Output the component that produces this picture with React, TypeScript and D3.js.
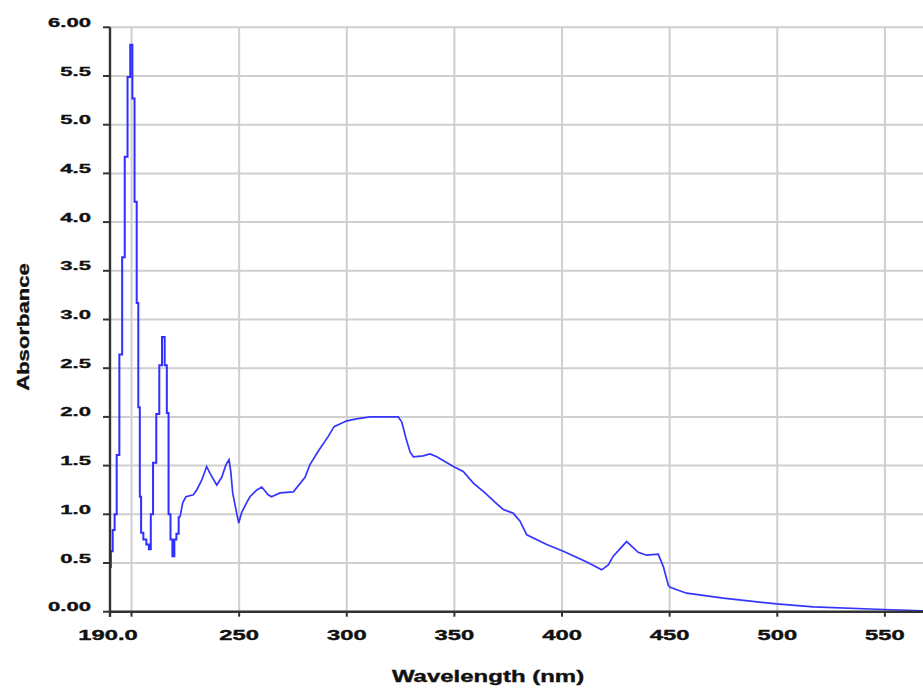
import * as d3 from 'd3';

// spectrum (nm, absorbance)
const wavelength = [
  190.0, 190.8, 191.7, 192.6, 193.6, 195.1, 196.2, 197.5, 198.8, 200.0,
  200.8, 202.0, 202.8, 203.5, 204.2, 204.7, 206.3, 207.5, 208.6, 209.3,
  210.7, 212.3, 213.5, 214.8, 216.0, 216.8, 217.6, 218.6, 219.4, 220.4,
  221.3, 222.5, 223.8, 225.3, 228.7, 230.3, 232.6, 234.9, 236.5, 239.6,
  241.9, 243.9, 245.3, 246.1, 247.0, 248.5, 249.8, 251.2, 253.5, 255.0,
  258.2, 260.5, 263.5, 265.0, 269.0, 275.2, 280.6, 282.9, 286.8, 291.4,
  294.1, 300.0, 304.6, 310.8, 323.9, 325.5, 327.5, 329.4, 330.9, 335.5,
  338.7, 341.8, 349.5, 354.1, 358.8, 364.2, 369.6, 372.7, 377.4, 380.5,
  383.6, 392.9, 400.6, 411.5, 418.4, 421.5, 423.8, 430.0, 435.4, 439.3,
  444.7, 447.1, 449.4, 450.2, 454.0, 457.9, 474.9, 499.7, 516.7, 546.2,
  567.1, 568.0,
];
const absorbance = [
  0.46, 0.62, 0.84, 1.0, 1.61, 2.64, 3.64, 4.67, 5.49, 5.82,
  5.27, 4.21, 3.17, 2.1, 1.18, 0.81, 0.74, 0.69, 0.64, 1.0,
  1.53, 2.03, 2.53, 2.82, 2.53, 2.04, 1.0, 0.74, 0.57, 0.74,
  0.8, 0.97, 1.12, 1.18, 1.2, 1.25, 1.35, 1.49, 1.42, 1.3,
  1.38, 1.51, 1.56, 1.44, 1.22, 1.05, 0.91, 1.02, 1.12, 1.18,
  1.25, 1.28, 1.2, 1.18, 1.22, 1.23, 1.38, 1.51, 1.65, 1.8,
  1.9, 1.96, 1.98, 2.0, 2.0, 1.95, 1.78, 1.64, 1.59, 1.6,
  1.62, 1.59, 1.49, 1.44, 1.32, 1.22, 1.11, 1.05, 1.01, 0.93,
  0.79, 0.69, 0.62, 0.51, 0.43, 0.48, 0.57, 0.72, 0.61, 0.58,
  0.59, 0.46, 0.27, 0.25, 0.22, 0.19, 0.14, 0.08, 0.05, 0.025,
  0.01, 0.01,
];

const yTicks = [0, 0.5, 1, 1.5, 2, 2.5, 3, 3.5, 4, 4.5, 5, 5.5, 6];
const yTickLabels = ['0.00', '0.5', '1.0', '1.5', '2.0', '2.5', '3.0', '3.5', '4.0', '4.5', '5.0', '5.5', '6.00'];
const xTicks = [190, 200, 250, 300, 350, 400, 450, 500, 550];
const xTickLabels = ['190.0', '', '250', '300', '350', '400', '450', '500', '550'];
const xGrid = [200, 250, 300, 350, 400, 450, 500, 550];

const W = 923;
const H = 688;
const font = '"Liberation Sans", Arial, sans-serif';

export default function App() {
  const x = d3.scaleLinear().domain([190, 567.7]).range([110, 923]);
  const y = d3.scaleLinear().domain([0, 6]).range([611.7, 27.3]);

  const pts: [number, number][] = wavelength.map((w, i) => [w, absorbance[i]]);
  // the sharp UV peaks come out stair-stepped in the original, the rest is smooth
  const split = wavelength.findIndex(w => w > 222);
  const stepPts = pts.slice(0, split + 1);
  const restPts = pts.slice(split);

  const stepLine = d3.line<[number, number]>()
    .x(d => x(d[0]))
    .y(d => y(d[1]))
    .curve(d3.curveStep);
  const line = d3.line<[number, number]>()
    .x(d => x(d[0]))
    .y(d => y(d[1]));

  const txt = { fontFamily: font, fontWeight: 'bold', fill: '#111', stroke: '#111', strokeWidth: 0.35 };

  return (
    <svg width={W} height={H} style={{ position: 'absolute', left: 0, top: 0, background: '#fff' }}>
      {/* grid */}
      {yTicks.map(t => (
        <line key={'gy' + t} x1={x(190)} x2={W} y1={y(t)} y2={y(t)} stroke="#cfcfcf" strokeWidth={2} />
      ))}
      {xGrid.map(t => (
        <line key={'gx' + t} x1={x(t)} x2={x(t)} y1={y(6)} y2={y(0)} stroke="#cfcfcf" strokeWidth={2} />
      ))}

      <path d={stepLine(stepPts) || ''} fill="none" stroke="#2f2fff" strokeWidth={2} />
      <path d={line(restPts) || ''} fill="none" stroke="#3535ff" strokeWidth={1.7} />

      {/* axes */}
      <line x1={x(190)} x2={x(190)} y1={y(6)} y2={y(0) + 5} stroke="#333" strokeWidth={2.4} />
      <line x1={x(190)} x2={W} y1={y(0)} y2={y(0)} stroke="#333" strokeWidth={2.4} />

      {yTicks.map((t, i) => (
        <g key={'ty' + t}>
          <line x1={x(190) - 7} x2={x(190)} y1={y(t)} y2={y(t)} stroke="#333" strokeWidth={2} />
          <text
            transform={`translate(91,${y(t) - 0.5}) scale(1.7,1)`}
            textAnchor="end"
            fontSize={13}
            {...txt}
          >
            {yTickLabels[i]}
          </text>
        </g>
      ))}

      {xTicks.map((t, i) => (
        <g key={'tx' + t}>
          <line x1={x(t)} x2={x(t)} y1={y(0)} y2={y(0) + 5} stroke="#333" strokeWidth={2} />
          <text
            transform={`translate(${x(t) - (i === 0 ? 2 : 0)},640) scale(1.7,1)`}
            textAnchor="middle"
            fontSize={14}
            {...txt}
          >
            {xTickLabels[i]}
          </text>
        </g>
      ))}

      <text transform="translate(488,682) scale(1.5,1)" textAnchor="middle" fontSize={16} {...txt}>
        Wavelength (nm)
      </text>
      <text transform="translate(29,327) rotate(-90) scale(1.3,1)" textAnchor="middle" fontSize={17} {...txt}>
        Absorbance
      </text>
    </svg>
  );
}
